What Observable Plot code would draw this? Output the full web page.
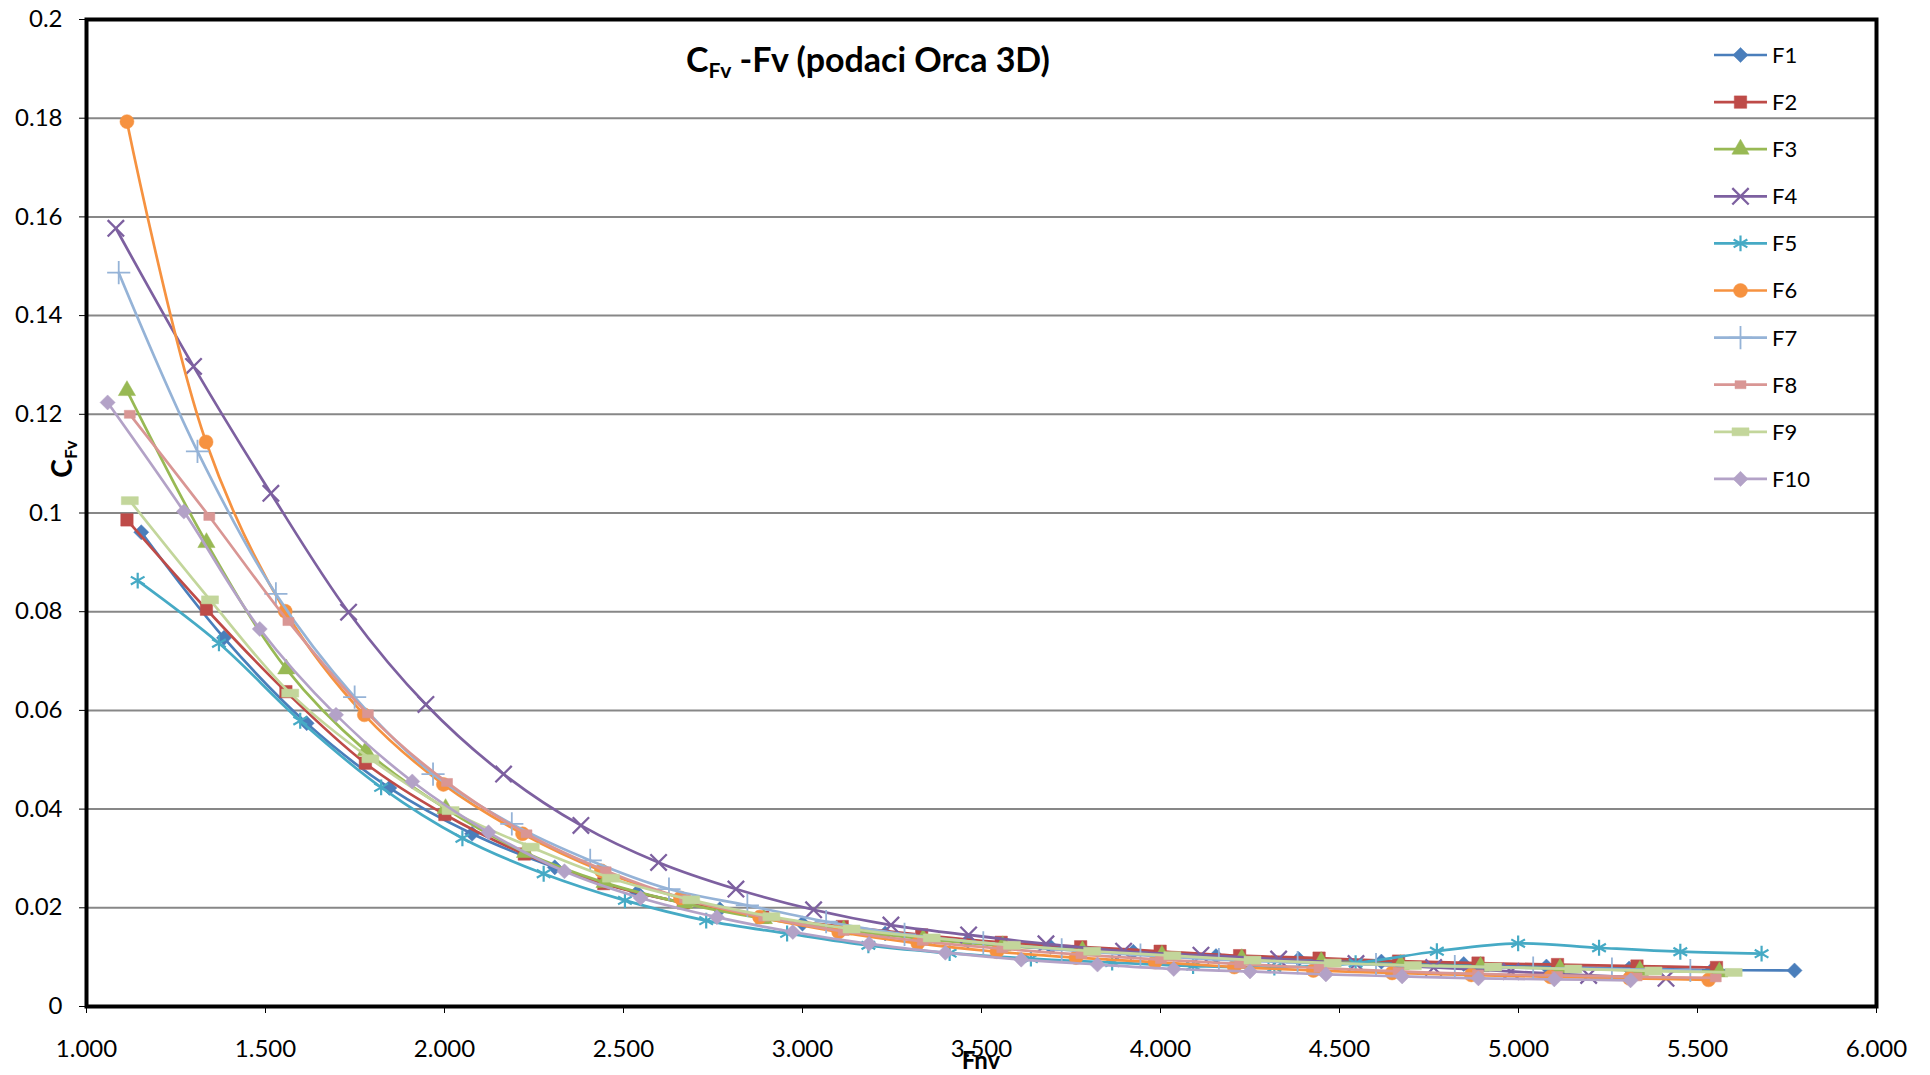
<!DOCTYPE html>
<html>
<head>
<meta charset="utf-8">
<script src="https://cdn.jsdelivr.net/npm/d3@7"></script>
<script src="https://cdn.jsdelivr.net/npm/@observablehq/plot@0.6"></script>
<style>
  html, body { margin: 0; padding: 0; background: #fff; }
  #wrap { position: relative; width: 1930px; height: 1075px; overflow: hidden; font-family: Lato, "Open Sans", sans-serif; color: #000; }
  #wrap svg { display: block; }
  #title { position: absolute; left: 868px; top: 38px; transform: translateX(-50%); font-weight: 700; font-size: 34px; line-height: 42px; white-space: nowrap; }
  #title sub, #ylab sub { font-size: 0.62em; vertical-align: -0.3em; line-height: 0; }
  #ylab { position: absolute; left: 61px; top: 459px; transform: translate(-50%, -50%) rotate(-90deg); font-weight: 700; font-size: 28px; line-height: 30px; white-space: nowrap; }
  #xlab { position: absolute; left: 981px; top: 1048px; transform: translateX(-50%); font-weight: 700; font-size: 24px; line-height: 24px; white-space: nowrap; }
  #legend { position: absolute; left: 0; top: 0; pointer-events: none; }
</style>
</head>
<body>
<div id="wrap">
  <div id="chart"></div>
  <div id="title">C<sub>Fv</sub> -Fv (podaci Orca 3D)</div>
  <div id="ylab">C<sub>Fv</sub></div>
  <div id="xlab">Fnv</div>
</div>
<script>
// ---------------- DATA ----------------
const seriesNames = ["F1", "F2", "F3", "F4", "F5", "F6", "F7", "F8", "F9", "F10"];

const fnvF1  = [1.153,1.384,1.615,1.846,2.077,2.308,2.538,2.769,3.000,3.231,3.462,3.693,3.924,4.155,4.386,4.617,4.847,5.078,5.309,5.540,5.771];
const cfvF1  = [0.0961,0.0747,0.0574,0.0443,0.0350,0.0282,0.0231,0.0197,0.0168,0.0148,0.0133,0.0121,0.0111,0.0102,0.0096,0.0091,0.0086,0.0081,0.0077,0.0074,0.0073];

const fnvF2  = [1.113,1.335,1.557,1.779,2.001,2.223,2.445,2.667,2.889,3.111,3.333,3.555,3.777,3.999,4.221,4.443,4.665,4.887,5.109,5.331,5.553];
const cfvF2  = [0.0986,0.0805,0.0638,0.0493,0.0389,0.0309,0.0249,0.0210,0.0181,0.0162,0.0145,0.0130,0.0121,0.0112,0.0103,0.0098,0.0092,0.0088,0.0085,0.0082,0.0079];

const fnvF3  = [1.113,1.335,1.558,1.780,2.003,2.225,2.447,2.670,2.892,3.115,3.337,3.559,3.782,4.004,4.227,4.449,4.671,4.894,5.116,5.339,5.561];
const cfvF3  = [0.1248,0.0940,0.0684,0.0518,0.0401,0.0312,0.0251,0.0209,0.0178,0.0155,0.0137,0.0123,0.0113,0.0104,0.0097,0.0091,0.0085,0.0081,0.0077,0.0073,0.0070];

const fnvF4  = [1.082,1.299,1.515,1.732,1.948,2.165,2.381,2.598,2.814,3.031,3.247,3.464,3.680,3.897,4.113,4.330,4.546,4.763,4.979,5.196,5.412];
const cfvF4  = [0.1577,0.1297,0.1040,0.0799,0.0612,0.0471,0.0367,0.0292,0.0238,0.0196,0.0165,0.0145,0.0127,0.0112,0.0104,0.0096,0.0087,0.0079,0.0071,0.0063,0.0057];

const fnvF5  = [1.143,1.370,1.597,1.823,2.050,2.277,2.504,2.731,2.957,3.184,3.411,3.638,3.865,4.091,4.318,4.545,4.772,4.999,5.225,5.452,5.679];
const cfvF5  = [0.0863,0.0736,0.0579,0.0444,0.0341,0.0269,0.0215,0.0174,0.0148,0.0124,0.0108,0.0097,0.0089,0.0082,0.0079,0.0088,0.0112,0.0128,0.0119,0.0111,0.0107];

const fnvF6  = [1.113,1.334,1.555,1.776,1.997,2.218,2.438,2.659,2.880,3.101,3.322,3.543,3.764,3.985,4.206,4.427,4.647,4.868,5.089,5.310,5.531];
const cfvF6  = [0.1793,0.1144,0.0801,0.0591,0.0450,0.0350,0.0275,0.0220,0.0181,0.0151,0.0128,0.0111,0.0099,0.0090,0.0080,0.0073,0.0068,0.0064,0.0060,0.0057,0.0054];

const fnvF7  = [1.090,1.310,1.529,1.749,1.968,2.188,2.407,2.627,2.846,3.066,3.285,3.505,3.724,3.944,4.163,4.383,4.602,4.822,5.041,5.261,5.480];
const cfvF7  = [0.1487,0.1125,0.0836,0.0627,0.0471,0.0370,0.0296,0.0238,0.0205,0.0172,0.0146,0.0129,0.0115,0.0104,0.0095,0.0089,0.0085,0.0081,0.0078,0.0076,0.0073];

const fnvF8  = [1.121,1.343,1.564,1.786,2.007,2.229,2.450,2.672,2.893,3.115,3.336,3.558,3.779,4.001,4.222,4.444,4.665,4.887,5.108,5.330,5.551];
const cfvF8  = [0.1200,0.0993,0.0780,0.0593,0.0454,0.0350,0.0275,0.0218,0.0181,0.0152,0.0132,0.0117,0.0105,0.0095,0.0086,0.0078,0.0071,0.0066,0.0063,0.0060,0.0058];

const fnvF9  = [1.121,1.345,1.569,1.793,2.017,2.241,2.465,2.689,2.913,3.137,3.361,3.585,3.809,4.033,4.257,4.481,4.705,4.929,5.153,5.377,5.601];
const cfvF9  = [0.1025,0.0824,0.0635,0.0502,0.0397,0.0323,0.0260,0.0216,0.0182,0.0157,0.0139,0.0124,0.0112,0.0103,0.0094,0.0088,0.0083,0.0080,0.0076,0.0072,0.0069];

const fnvF10 = [1.059,1.272,1.484,1.697,1.910,2.123,2.335,2.548,2.761,2.973,3.186,3.399,3.611,3.824,4.037,4.250,4.462,4.675,4.888,5.100,5.313];
const cfvF10 = [0.1224,0.1003,0.0765,0.0591,0.0456,0.0353,0.0274,0.0220,0.0181,0.0151,0.0127,0.0109,0.0095,0.0085,0.0076,0.0071,0.0065,0.0061,0.0057,0.0055,0.0053];

const xTicks = [1, 1.5, 2, 2.5, 3, 3.5, 4, 4.5, 5, 5.5, 6];
const xTickLabels = ["1.000","1.500","2.000","2.500","3.000","3.500","4.000","4.500","5.000","5.500","6.000"];
const yTicks = [0, 0.02, 0.04, 0.06, 0.08, 0.1, 0.12, 0.14, 0.16, 0.18, 0.2];
const yTickLabels = ["0","0.02","0.04","0.06","0.08","0.1","0.12","0.14","0.16","0.18","0.2"];

// ---------------- STYLES ----------------
const fnvAll = [fnvF1, fnvF2, fnvF3, fnvF4, fnvF5, fnvF6, fnvF7, fnvF8, fnvF9, fnvF10];
const cfvAll = [cfvF1, cfvF2, cfvF3, cfvF4, cfvF5, cfvF6, cfvF7, cfvF8, cfvF9, cfvF10];
const colors = ["#4a7ebb","#be4b48","#98b954","#7d60a0","#46aac5","#f69240","#95b3d7","#d99694","#c3d69b","#b3a2c7"];

function rectSymbol(w, h) {
  return { draw(ctx) { ctx.moveTo(-w/2, -h/2); ctx.lineTo(w/2, -h/2); ctx.lineTo(w/2, h/2); ctx.lineTo(-w/2, h/2); ctx.closePath(); } };
}
const markers = [
  {symbol: d3.symbolDiamond2, r: 6.8, filled: true},
  {symbol: d3.symbolSquare,   r: 7,   filled: true},
  {symbol: d3.symbolTriangle, r: 6.4, filled: true},
  {symbol: d3.symbolTimes,    r: 7.5, filled: false, sw: 2.3},
  {symbol: d3.symbolAsterisk, r: 7.5, filled: false, sw: 2.2},
  {symbol: d3.symbolCircle,   r: 7,   filled: true},
  {symbol: d3.symbolPlus,     r: 7.5, filled: false, sw: 1.8},
  {symbol: rectSymbol(11, 8), r: 5,   filled: true},
  {symbol: rectSymbol(17, 8), r: 5,   filled: true},
  {symbol: d3.symbolDiamond2, r: 6.8, filled: true}
];

const series = seriesNames.map((name, i) => ({
  name, color: colors[i], marker: markers[i],
  rows: fnvAll[i].map((x, j) => ({x, y: cfvAll[i][j]}))
}));

const xLab = new Map(xTicks.map((t, i) => [t, xTickLabels[i]]));
const yLab = new Map(yTicks.map((t, i) => [t, yTickLabels[i]]));

const seriesMarks = series.flatMap(s => [
  Plot.line(s.rows, {x: "x", y: "y", stroke: s.color, strokeWidth: 2.7, curve: "catmull-rom"}),
  Plot.dot(s.rows, {
    x: "x", y: "y", symbol: s.marker.symbol, r: s.marker.r,
    fill: s.marker.filled ? s.color : "none",
    stroke: s.color,
    strokeWidth: s.marker.filled ? 0.5 : s.marker.sw
  })
]);

const chart = Plot.plot({
  width: 1930, height: 1075,
  marginLeft: 86, marginRight: 54, marginTop: 19, marginBottom: 69,
  x: {domain: [1, 6]},
  y: {domain: [0, 0.2]},
  style: {fontFamily: "Lato, 'Open Sans', sans-serif", fontSize: "24px", background: "white", color: "black"},
  marks: [
    Plot.gridY(yTicks, {stroke: "#878787", strokeOpacity: 1, strokeWidth: 2}),
    Plot.axisY({ticks: yTicks, tickFormat: d => yLab.get(d), tickSize: 7, tickPadding: 17, label: null, fontSize: 24}),
    Plot.axisX({ticks: xTicks, tickFormat: d => xLab.get(d), tickSize: 7, tickPadding: 26, label: null, fontSize: 24}),
    ...seriesMarks,
    Plot.frame({stroke: "black", strokeWidth: 4})
  ]
});
document.getElementById("chart").appendChild(chart);

// ---------------- LEGEND ----------------
const legend = d3.select("#wrap").append("svg")
  .attr("id", "legend").attr("width", 1930).attr("height", 1075);
series.forEach((s, i) => {
  const cy = 55 + i * 47.1;
  const g = legend.append("g").attr("transform", `translate(0,${cy})`);
  g.append("line").attr("x1", 1714).attr("x2", 1767).attr("y1", 0).attr("y2", 0)
    .attr("stroke", s.color).attr("stroke-width", 2.7);
  g.append("path").attr("transform", "translate(1740.5,0)")
    .attr("d", d3.symbol(s.marker.symbol, Math.PI * s.marker.r * s.marker.r)())
    .attr("fill", s.marker.filled ? s.color : "none")
    .attr("stroke", s.color)
    .attr("stroke-width", s.marker.filled ? 0.5 : s.marker.sw);
  g.append("text").attr("x", 1772).attr("y", 0).attr("dy", "0.36em")
    .attr("font-family", "Lato, 'Open Sans', sans-serif").attr("font-size", 22)
    .text(s.name);
});
</script>
</body>
</html>
